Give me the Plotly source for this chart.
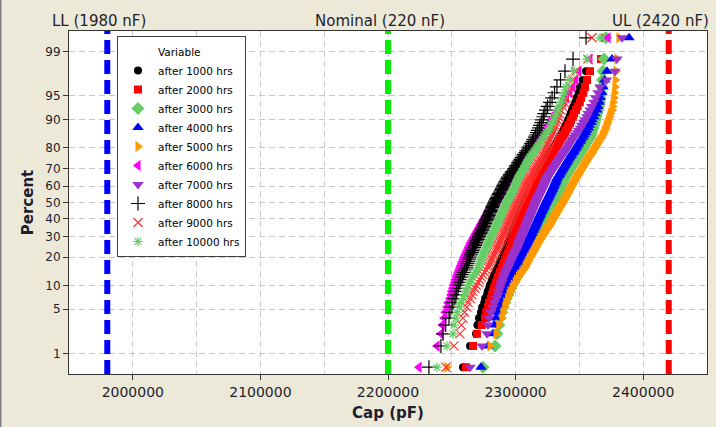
import plotly.graph_objects as go
from statistics import NormalDist

# ---------------- data (capacitance in nF) ----------------
cap_1000 = [2258.8, 2264.3, 2269.0, 2270.1, 2271.3, 2272.9, 2273.8, 2275.4, 2276.1, 2277.6,
            2278.1, 2279.3, 2279.8, 2281.0, 2281.6, 2282.7, 2283.1, 2284.4, 2285.0, 2286.2,
            2286.6, 2287.5, 2287.9, 2288.8, 2289.2, 2290.1, 2290.4, 2291.3, 2291.7, 2292.5,
            2292.8, 2293.4, 2293.7, 2294.3, 2294.9, 2295.2, 2295.8, 2296.1, 2296.8, 2297.0,
            2297.6, 2298.1, 2298.3, 2299.0, 2299.5, 2299.8, 2300.3, 2300.5, 2301.0, 2301.4,
            2301.6, 2302.2, 2302.5, 2302.8, 2303.3, 2303.5, 2304.1, 2304.4, 2304.7, 2305.2,
            2305.5, 2306.0, 2306.6, 2306.9, 2307.5, 2307.8, 2308.4, 2308.7, 2309.3, 2309.6,
            2310.2, 2310.5, 2311.1, 2311.4, 2312.0, 2312.3, 2312.9, 2313.1, 2313.7, 2314.0,
            2314.4, 2315.0, 2315.9, 2316.4, 2317.3, 2317.8, 2318.7, 2319.2, 2320.1, 2320.6,
            2321.5, 2322.0, 2322.9, 2323.5, 2324.4, 2325.4, 2326.1, 2327.3, 2328.0, 2329.1,
            2329.9, 2331.0, 2331.7, 2332.9, 2333.6, 2334.8, 2335.5, 2336.7, 2337.4, 2338.6,
            2339.3, 2340.5, 2341.2, 2342.4, 2343.1, 2344.2, 2345.3, 2346.8, 2347.9, 2349.4,
            2350.5, 2352.6, 2355.2, 2366.9, 2371.6]
cap_2000 = [2261.1, 2266.6, 2269.7, 2273.5, 2276.0, 2277.0, 2278.4, 2279.1, 2280.6, 2281.5,
            2282.4, 2283.0, 2284.1, 2284.8, 2285.7, 2286.2, 2287.3, 2287.8, 2288.9, 2289.4,
            2290.2, 2290.6, 2291.5, 2291.9, 2292.8, 2293.1, 2293.9, 2294.4, 2295.0, 2295.6,
            2295.9, 2296.5, 2296.7, 2297.3, 2297.6, 2298.2, 2298.4, 2299.0, 2299.3, 2299.8,
            2300.1, 2300.6, 2300.9, 2301.5, 2301.9, 2302.3, 2302.6, 2303.2, 2303.4, 2304.0,
            2304.3, 2304.7, 2305.2, 2305.4, 2306.0, 2306.3, 2306.7, 2307.2, 2307.4, 2307.9,
            2308.2, 2308.6, 2309.0, 2309.5, 2309.8, 2310.4, 2310.6, 2311.2, 2311.6, 2312.0,
            2312.5, 2312.8, 2313.4, 2313.7, 2314.1, 2314.6, 2314.9, 2315.4, 2315.7, 2316.3,
            2316.8, 2317.3, 2318.2, 2318.7, 2319.6, 2320.1, 2321.0, 2321.5, 2322.4, 2322.9,
            2323.8, 2324.4, 2325.2, 2325.9, 2326.7, 2327.7, 2328.3, 2329.4, 2330.0, 2331.1,
            2331.7, 2332.7, 2333.4, 2334.5, 2335.1, 2336.4, 2337.2, 2338.5, 2339.3, 2340.7,
            2341.4, 2342.8, 2343.5, 2344.9, 2345.8, 2347.3, 2348.6, 2350.3, 2351.4, 2353.1,
            2354.4, 2356.0, 2358.3, 2366.9, 2370.0]
cap_3000 = [2274.4, 2283.9, 2285.4, 2286.9, 2287.8, 2289.2, 2290.3, 2291.7, 2292.6, 2294.0,
            2294.9, 2296.2, 2297.0, 2298.4, 2299.3, 2300.5, 2301.4, 2302.7, 2303.6, 2305.0,
            2305.5, 2306.4, 2306.9, 2307.8, 2308.3, 2309.2, 2309.7, 2310.6, 2311.2, 2312.1,
            2312.5, 2313.2, 2313.6, 2314.4, 2314.8, 2315.6, 2316.0, 2316.7, 2317.2, 2317.9,
            2318.4, 2319.0, 2319.5, 2320.1, 2320.7, 2321.0, 2321.6, 2322.0, 2322.6, 2323.0,
            2323.5, 2324.0, 2324.4, 2325.0, 2325.3, 2325.9, 2326.3, 2326.8, 2327.3, 2327.7,
            2328.3, 2328.7, 2329.3, 2329.6, 2330.3, 2330.6, 2331.3, 2331.6, 2332.3, 2332.6,
            2333.3, 2333.6, 2334.3, 2334.6, 2335.2, 2335.6, 2336.1, 2336.6, 2337.0, 2337.5,
            2337.9, 2338.4, 2339.3, 2339.8, 2340.7, 2341.2, 2342.1, 2342.6, 2343.5, 2344.0,
            2344.9, 2345.5, 2346.3, 2347.0, 2347.9, 2348.9, 2349.5, 2350.7, 2351.3, 2352.5,
            2353.2, 2354.3, 2355.0, 2356.2, 2356.9, 2358.3, 2358.7, 2359.5, 2360.0, 2360.7,
            2361.2, 2361.9, 2362.4, 2363.1, 2363.7, 2364.5, 2365.0, 2365.8, 2366.3, 2367.1,
            2367.7, 2368.1, 2368.5, 2369.3, 2370.8]
cap_4000 = [2272.9, 2278.4, 2282.3, 2283.2, 2284.6, 2285.8, 2287.3, 2288.2, 2289.8, 2290.9,
            2291.6, 2292.8, 2293.5, 2294.7, 2295.4, 2296.6, 2297.3, 2298.5, 2299.2, 2300.3,
            2300.8, 2301.7, 2302.2, 2303.1, 2303.6, 2304.5, 2305.0, 2305.9, 2306.5, 2307.4,
            2307.8, 2308.4, 2308.8, 2309.5, 2309.9, 2310.6, 2311.0, 2311.6, 2312.1, 2312.7,
            2313.1, 2313.8, 2314.1, 2314.8, 2315.2, 2315.6, 2316.1, 2316.6, 2317.1, 2317.5,
            2318.1, 2318.5, 2319.0, 2319.5, 2319.9, 2320.5, 2320.9, 2321.4, 2321.8, 2322.4,
            2322.7, 2323.3, 2323.8, 2324.1, 2324.8, 2325.1, 2325.8, 2326.1, 2326.8, 2327.1,
            2327.8, 2328.1, 2328.8, 2329.1, 2329.7, 2330.1, 2330.6, 2331.1, 2331.5, 2332.0,
            2332.4, 2332.9, 2333.8, 2334.3, 2335.2, 2335.7, 2336.6, 2337.1, 2338.0, 2338.5,
            2339.4, 2340.0, 2340.8, 2341.5, 2342.4, 2343.4, 2343.9, 2345.2, 2345.8, 2347.0,
            2347.7, 2348.8, 2349.5, 2350.7, 2351.4, 2352.8, 2353.6, 2354.9, 2355.7, 2357.1,
            2357.8, 2359.2, 2359.9, 2361.3, 2362.1, 2363.8, 2364.6, 2365.7, 2366.4, 2367.6,
            2368.5, 2369.8, 2371.6, 2375.6, 2388.9]
cap_5000 = [2246.2, 2279.9, 2284.6, 2286.8, 2289.3, 2290.1, 2291.5, 2292.3, 2293.7, 2294.8,
            2295.7, 2297.2, 2298.2, 2299.7, 2300.8, 2302.2, 2303.3, 2304.8, 2305.9, 2307.4,
            2307.9, 2308.9, 2309.5, 2310.5, 2311.1, 2312.1, 2312.7, 2313.7, 2314.3, 2315.2,
            2315.7, 2316.6, 2317.1, 2318.0, 2318.6, 2319.5, 2320.0, 2320.9, 2321.5, 2322.4,
            2322.9, 2323.8, 2324.4, 2325.3, 2326.2, 2326.6, 2327.4, 2327.8, 2328.6, 2329.0,
            2329.8, 2330.2, 2331.0, 2331.4, 2332.2, 2332.6, 2333.4, 2333.8, 2334.6, 2335.0,
            2335.8, 2336.3, 2337.1, 2337.4, 2338.2, 2338.5, 2339.3, 2339.7, 2340.4, 2340.8,
            2341.5, 2341.9, 2342.6, 2343.0, 2343.7, 2344.1, 2344.8, 2345.3, 2345.9, 2346.5,
            2347.3, 2347.7, 2348.6, 2349.1, 2350.0, 2350.5, 2351.4, 2351.9, 2352.8, 2353.3,
            2354.2, 2354.8, 2355.6, 2356.3, 2357.1, 2358.3, 2358.8, 2360.0, 2360.6, 2361.8,
            2362.5, 2363.6, 2364.3, 2365.5, 2366.2, 2367.7, 2368.2, 2369.2, 2369.7, 2370.7,
            2371.3, 2372.2, 2372.8, 2373.7, 2374.4, 2375.6, 2376.0, 2376.5, 2377.0, 2377.4,
            2377.9, 2378.2, 2378.7, 2379.4, 2381.0]
cap_6000 = [2224.3, 2238.4, 2241.5, 2242.6, 2243.9, 2244.8, 2246.2, 2247.0, 2248.5, 2249.4,
            2249.9, 2250.8, 2251.3, 2252.2, 2252.7, 2253.6, 2254.2, 2255.0, 2255.6, 2256.4,
            2256.8, 2257.7, 2258.1, 2259.0, 2259.4, 2260.3, 2260.7, 2261.5, 2262.0, 2262.7,
            2263.1, 2263.9, 2264.3, 2265.1, 2265.6, 2266.4, 2266.9, 2267.6, 2268.2, 2268.9,
            2269.4, 2270.2, 2270.7, 2271.4, 2272.1, 2272.5, 2273.3, 2273.8, 2274.6, 2275.0,
            2275.8, 2276.3, 2277.1, 2277.5, 2278.3, 2278.8, 2279.6, 2280.1, 2280.8, 2281.4,
            2282.1, 2282.7, 2283.9, 2284.2, 2285.0, 2285.5, 2286.3, 2286.8, 2287.6, 2288.1,
            2288.9, 2289.4, 2290.2, 2290.7, 2291.5, 2292.0, 2292.8, 2293.3, 2294.1, 2294.7,
            2295.6, 2296.1, 2297.1, 2297.7, 2298.7, 2299.3, 2300.3, 2300.9, 2301.9, 2302.5,
            2303.5, 2304.1, 2305.1, 2305.8, 2306.8, 2308.1, 2308.8, 2310.1, 2310.8, 2312.1,
            2312.8, 2314.0, 2314.8, 2316.1, 2316.9, 2318.3, 2319.4, 2321.2, 2322.3, 2324.1,
            2325.2, 2327.0, 2328.1, 2329.9, 2331.1, 2333.2, 2335.1, 2337.8, 2339.9, 2342.6,
            2345.0, 2347.3, 2349.7, 2358.3, 2372.4]
cap_7000 = [2264.3, 2273.7, 2277.6, 2278.3, 2279.2, 2280.7, 2282.3, 2283.4, 2285.0, 2286.2,
            2286.7, 2287.7, 2288.2, 2289.2, 2289.8, 2290.7, 2291.3, 2292.2, 2292.9, 2294.0,
            2294.4, 2295.4, 2295.9, 2296.8, 2297.3, 2298.2, 2298.8, 2299.6, 2300.3, 2301.1,
            2301.4, 2302.0, 2302.3, 2303.0, 2303.3, 2303.9, 2304.3, 2304.9, 2305.2, 2305.8,
            2306.2, 2306.7, 2307.1, 2307.6, 2308.1, 2308.4, 2309.0, 2309.3, 2309.9, 2310.2,
            2310.8, 2311.1, 2311.7, 2312.0, 2312.5, 2312.9, 2313.4, 2313.8, 2314.2, 2314.7,
            2315.0, 2315.5, 2316.0, 2316.3, 2317.0, 2317.3, 2318.0, 2318.3, 2319.0, 2319.3,
            2320.0, 2320.3, 2321.0, 2321.3, 2321.9, 2322.3, 2322.8, 2323.3, 2323.7, 2324.2,
            2324.6, 2325.1, 2326.1, 2326.6, 2327.6, 2328.1, 2329.1, 2329.6, 2330.6, 2331.1,
            2332.1, 2332.7, 2333.6, 2334.3, 2335.2, 2336.4, 2337.0, 2338.2, 2338.8, 2340.0,
            2340.7, 2341.8, 2342.5, 2343.7, 2344.4, 2345.8, 2346.8, 2348.4, 2349.3, 2350.9,
            2351.8, 2353.4, 2354.3, 2355.8, 2356.8, 2358.3, 2359.6, 2361.3, 2362.7, 2364.5,
            2366.1, 2371.2, 2377.9, 2379.4, 2383.4]
cap_8000 = [2232.1, 2241.5, 2243.1, 2245.2, 2247.8, 2248.6, 2250.1, 2250.9, 2252.4, 2253.3,
            2253.9, 2254.9, 2255.4, 2256.4, 2256.9, 2257.9, 2258.5, 2259.4, 2260.1, 2261.1,
            2261.4, 2262.2, 2262.6, 2263.4, 2263.8, 2264.6, 2265.0, 2265.8, 2266.3, 2267.0,
            2267.4, 2268.1, 2268.5, 2269.2, 2269.6, 2270.3, 2270.7, 2271.4, 2271.8, 2272.5,
            2272.9, 2273.6, 2274.0, 2274.6, 2275.2, 2275.5, 2276.1, 2276.4, 2277.0, 2277.4,
            2278.0, 2278.3, 2278.9, 2279.3, 2279.8, 2280.2, 2280.7, 2281.1, 2281.6, 2282.0,
            2282.5, 2282.9, 2283.5, 2283.9, 2284.6, 2285.0, 2285.7, 2286.1, 2286.8, 2287.2,
            2287.9, 2288.3, 2289.0, 2289.4, 2290.1, 2290.5, 2291.2, 2291.7, 2292.3, 2292.8,
            2293.6, 2294.1, 2295.2, 2295.7, 2296.8, 2297.3, 2298.4, 2298.9, 2300.0, 2300.5,
            2301.6, 2302.2, 2303.1, 2303.8, 2304.7, 2305.8, 2306.5, 2307.8, 2308.4, 2309.7,
            2310.3, 2311.5, 2312.2, 2313.4, 2314.0, 2315.2, 2315.8, 2316.9, 2317.4, 2318.5,
            2319.1, 2320.2, 2320.7, 2321.8, 2322.4, 2323.8, 2325.1, 2327.0, 2328.6, 2330.5,
            2332.4, 2335.2, 2338.7, 2345.0, 2355.2]
cap_9000 = [2245.4, 2251.7, 2256.4, 2257.5, 2258.8, 2260.0, 2261.7, 2262.8, 2264.5, 2265.8,
            2266.7, 2268.2, 2269.2, 2270.7, 2271.8, 2273.2, 2274.3, 2275.8, 2276.9, 2278.4,
            2278.9, 2279.8, 2280.3, 2281.2, 2281.7, 2282.6, 2283.1, 2284.0, 2284.6, 2285.4,
            2285.8, 2286.5, 2286.9, 2287.6, 2288.0, 2288.7, 2289.1, 2289.7, 2290.2, 2290.8,
            2291.3, 2291.9, 2292.3, 2292.9, 2293.4, 2293.7, 2294.3, 2294.6, 2295.2, 2295.6,
            2296.2, 2296.5, 2297.1, 2297.5, 2298.0, 2298.4, 2298.9, 2299.3, 2299.8, 2300.2,
            2300.7, 2301.1, 2301.6, 2301.9, 2302.6, 2302.9, 2303.6, 2303.9, 2304.6, 2304.9,
            2305.6, 2305.9, 2306.5, 2306.9, 2307.5, 2307.9, 2308.5, 2308.9, 2309.4, 2309.9,
            2310.5, 2311.0, 2311.8, 2312.3, 2313.1, 2313.6, 2314.4, 2314.9, 2315.7, 2316.2,
            2317.0, 2317.5, 2318.3, 2318.9, 2319.7, 2320.7, 2321.2, 2322.1, 2322.6, 2323.5,
            2324.0, 2324.8, 2325.3, 2326.2, 2326.7, 2327.7, 2328.2, 2329.2, 2329.7, 2330.7,
            2331.2, 2332.1, 2332.7, 2333.6, 2334.2, 2335.6, 2336.8, 2338.3, 2339.6, 2341.2,
            2342.6, 2344.8, 2347.3, 2356.7, 2359.9]
cap_10000 = [2238.4, 2246.2, 2250.9, 2251.8, 2253.3, 2254.4, 2256.1, 2257.2, 2259.0, 2260.3,
             2261.0, 2262.3, 2263.0, 2264.3, 2265.1, 2266.3, 2267.1, 2268.4, 2269.2, 2270.5,
             2270.9, 2271.8, 2272.2, 2273.1, 2273.5, 2274.3, 2274.8, 2275.6, 2276.1, 2276.8,
             2277.2, 2277.8, 2278.2, 2278.9, 2279.3, 2279.9, 2280.3, 2281.0, 2281.4, 2282.0,
             2282.4, 2283.1, 2283.5, 2284.1, 2284.6, 2284.9, 2285.5, 2285.9, 2286.5, 2286.9,
             2287.5, 2287.9, 2288.5, 2288.9, 2289.5, 2289.9, 2290.4, 2290.9, 2291.4, 2291.9,
             2292.3, 2292.8, 2293.3, 2293.6, 2294.3, 2294.6, 2295.3, 2295.6, 2296.3, 2296.6,
             2297.3, 2297.6, 2298.3, 2298.6, 2299.2, 2299.6, 2300.1, 2300.6, 2301.0, 2301.5,
             2301.9, 2302.4, 2303.2, 2303.7, 2304.5, 2305.0, 2305.8, 2306.3, 2307.1, 2307.6,
             2308.4, 2308.9, 2309.7, 2310.3, 2311.1, 2312.1, 2312.8, 2314.1, 2314.8, 2316.1,
             2316.8, 2318.0, 2318.8, 2320.1, 2320.9, 2322.3, 2323.1, 2324.5, 2325.3, 2326.7,
             2327.4, 2328.8, 2329.6, 2331.0, 2331.8, 2333.2, 2334.3, 2335.7, 2336.9, 2338.3,
             2339.5, 2342.3, 2345.8, 2356.0, 2366.1]

series_names = ["after 1000 hrs", "after 2000 hrs", "after 3000 hrs", "after 4000 hrs",
                "after 5000 hrs", "after 6000 hrs", "after 7000 hrs", "after 8000 hrs",
                "after 9000 hrs", "after 10000 hrs"]
series_data = [cap_1000, cap_2000, cap_3000, cap_4000, cap_5000,
               cap_6000, cap_7000, cap_8000, cap_9000, cap_10000]

percent_ticks = [1, 5, 10, 20, 30, 40, 50, 60, 70, 80, 90, 95, 99]
x_ticks = [2000000, 2100000, 2200000, 2300000, 2400000]
ref_lines = [1980000, 2200000, 2420000]
ref_labels = ["LL (1980 nF)", "Nominal (220 nF)", "UL (2420 nF)"]

# ---------------- styles ----------------
symbols = ["circle", "square", "diamond", "triangle-up", "triangle-right",
           "triangle-left", "triangle-down", "cross-thin", "x-thin", "asterisk"]
colors = ["#000000", "#FF0000", "#66CC66", "#0000FF", "#FF9900",
          "#FF00FF", "#9933CC", "#000000", "#FF3333", "#66CC66"]
sizes = [8, 8, 10, 10, 10, 10, 10, 10, 9, 8]
ref_colors = ["#0000FF", "#00EE00", "#FF0000"]
FONT = "DejaVu Sans"
TXT = "#1E1E2E"

nd = NormalDist()

fig = go.Figure()
# legend heading as an invisible entry
fig.add_trace(go.Scatter(x=[None], y=[None], mode="markers", name="Variable",
                         marker=dict(color="rgba(0,0,0,0)", size=8), hoverinfo="skip"))

for name, data, sym, col, sz in zip(series_names, series_data, symbols, colors, sizes):
    vals = sorted(v * 1000 for v in data)  # nF -> pF
    n = len(vals)
    zs = [nd.inv_cdf((i - 0.3) / (n + 0.4)) for i in range(1, n + 1)]
    thin = sym in ("cross-thin", "x-thin", "asterisk")
    fig.add_trace(go.Scatter(
        x=vals, y=zs, mode="markers", name=name,
        marker=dict(symbol=sym, color=col, size=sz,
                    line=dict(color=col, width=1.2 if thin else 0)),
    ))

for xv, col in zip(ref_lines, ref_colors):
    fig.add_shape(type="line", xref="x", yref="paper", x0=xv, x1=xv, y0=0, y1=1,
                  line=dict(color=col, width=6, dash="14px,6px"), layer="above")

for xv, lab in zip(ref_lines, ref_labels):
    fig.add_annotation(x=xv, y=1, xref="x", yref="paper", text=lab, showarrow=False,
                       yanchor="bottom", xshift=-8, yshift=-1,
                       font=dict(family=FONT, size=15, color=TXT))

# thin grey border on the left edge of the window
fig.add_shape(type="line", xref="paper", yref="paper",
              x0=-68.5 / 638, x1=-68.5 / 638, y0=-53 / 343, y1=1 + 31 / 343,
              line=dict(color="#808080", width=2))

grid = dict(showgrid=True, gridcolor="#C8C8C8", gridwidth=1, griddash="6px,4px")

fig.update_layout(
    width=716, height=427,
    margin=dict(l=69, r=9, t=31, b=53),
    paper_bgcolor="#ECE9D8", plot_bgcolor="#FFFFFF",
    font=dict(family=FONT, color=TXT),
    showlegend=True,
    legend=dict(x=(117 - 69) / 638, y=(374 - 36) / 343, xanchor="left", yanchor="top",
                bgcolor="#FFFFFF", bordercolor="#404040", borderwidth=1,
                font=dict(family=FONT, size=10.5, color="#000000"),
                tracegroupgap=0, itemsizing="trace"),
    xaxis=dict(range=[1950000, 2450000], tickvals=x_ticks, tickformat="d",
               ticks="outside", ticklen=5, tickcolor="#333333",
               tickfont=dict(size=14, color=TXT),
               showline=True, linecolor="#333333", linewidth=1, mirror=True,
               zeroline=False,
               minor=dict(dtick=50000, tick0=1950000, showgrid=True,
                          gridcolor="#C8C8C8", griddash="6px,4px", ticks=""),
               title=dict(text="<b>Cap (pF)</b>", font=dict(size=15, color=TXT), standoff=8),
               **grid),
    yaxis=dict(range=[-2.642, 2.642],
               tickvals=[nd.inv_cdf(p / 100) for p in percent_ticks],
               ticktext=[str(p) for p in percent_ticks],
               ticks="outside", ticklen=5, tickcolor="#333333",
               tickfont=dict(size=12, color=TXT),
               showline=True, linecolor="#333333", linewidth=1, mirror=True,
               zeroline=False,
               title=dict(text="<b>Percent</b>", font=dict(size=15, color=TXT), standoff=8),
               **grid),
)

fig.write_html("out.html")
